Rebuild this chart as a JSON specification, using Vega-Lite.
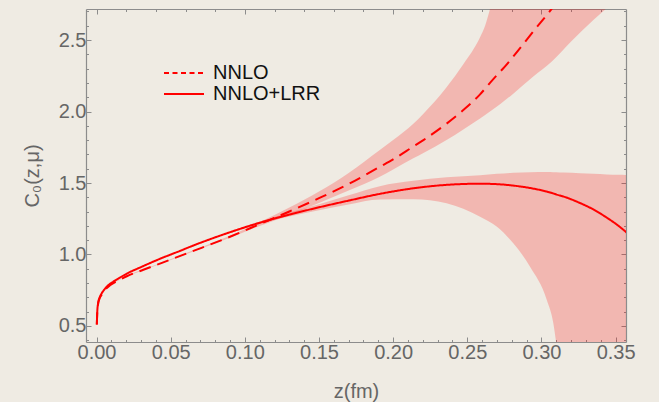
{
  "$schema": "https://vega.github.io/schema/vega-lite/v6.json",
  "autosize": "none",
  "width": 540,
  "height": 333,
  "padding": {"left": 86, "top": 9, "right": 33, "bottom": 60},
  "background": "#efebe3",
  "config": {
    "view": {"stroke": null},
    "font": "Liberation Sans",
    "axis": {
      "grid": false,
      "domainColor": "#8c8c8c",
      "domainWidth": 1.2,
      "tickColor": "#8c8c8c",
      "tickWidth": 1,
      "labelFont": "Liberation Sans",
      "labelFontSize": 20,
      "labelColor": "#666666",
      "labelOverlap": false,
      "labelFlush": false,
      "titleFont": "Liberation Sans",
      "titleFontSize": 20,
      "titleFontWeight": "normal",
      "titleColor": "#666666"
    }
  },
  "data": {
    "values": [
      {"series": "NNLO+LRR", "z": 0.0002, "c": 0.51, "lo": 0.51, "hi": 0.51},
      {"series": "NNLO+LRR", "z": 0.0005, "c": 0.6, "lo": 0.6, "hi": 0.6},
      {"series": "NNLO+LRR", "z": 0.001, "c": 0.655, "lo": 0.655, "hi": 0.655},
      {"series": "NNLO+LRR", "z": 0.0019, "c": 0.694, "lo": 0.694, "hi": 0.694},
      {"series": "NNLO+LRR", "z": 0.003, "c": 0.72, "lo": 0.72, "hi": 0.72},
      {"series": "NNLO+LRR", "z": 0.0042, "c": 0.74, "lo": 0.739, "hi": 0.741},
      {"series": "NNLO+LRR", "z": 0.0069, "c": 0.775, "lo": 0.774, "hi": 0.776},
      {"series": "NNLO+LRR", "z": 0.0113, "c": 0.81, "lo": 0.809, "hi": 0.811},
      {"series": "NNLO+LRR", "z": 0.016, "c": 0.84, "lo": 0.838, "hi": 0.842},
      {"series": "NNLO+LRR", "z": 0.0204, "c": 0.866, "lo": 0.864, "hi": 0.868},
      {"series": "NNLO+LRR", "z": 0.03, "c": 0.912, "lo": 0.91, "hi": 0.914},
      {"series": "NNLO+LRR", "z": 0.0428, "c": 0.97, "lo": 0.967, "hi": 0.973},
      {"series": "NNLO+LRR", "z": 0.055, "c": 1.02, "lo": 1.017, "hi": 1.023},
      {"series": "NNLO+LRR", "z": 0.0653, "c": 1.063, "lo": 1.059, "hi": 1.067},
      {"series": "NNLO+LRR", "z": 0.0878, "c": 1.148, "lo": 1.143, "hi": 1.153},
      {"series": "NNLO+LRR", "z": 0.11, "c": 1.222, "lo": 1.214, "hi": 1.23},
      {"series": "NNLO+LRR", "z": 0.13, "c": 1.279, "lo": 1.266, "hi": 1.293},
      {"series": "NNLO+LRR", "z": 0.15, "c": 1.33, "lo": 1.31, "hi": 1.352},
      {"series": "NNLO+LRR", "z": 0.17, "c": 1.377, "lo": 1.35, "hi": 1.415},
      {"series": "NNLO+LRR", "z": 0.191, "c": 1.424, "lo": 1.385, "hi": 1.478},
      {"series": "NNLO+LRR", "z": 0.2136, "c": 1.463, "lo": 1.386, "hi": 1.515},
      {"series": "NNLO+LRR", "z": 0.236, "c": 1.487, "lo": 1.358, "hi": 1.54},
      {"series": "NNLO+LRR", "z": 0.2586, "c": 1.495, "lo": 1.264, "hi": 1.555},
      {"series": "NNLO+LRR", "z": 0.27, "c": 1.492, "lo": 1.194, "hi": 1.565},
      {"series": "NNLO+LRR", "z": 0.281, "c": 1.482, "lo": 1.078, "hi": 1.572},
      {"series": "NNLO+LRR", "z": 0.2923, "c": 1.465, "lo": 0.915, "hi": 1.576},
      {"series": "NNLO+LRR", "z": 0.3036, "c": 1.44, "lo": 0.682, "hi": 1.577},
      {"series": "NNLO+LRR", "z": 0.308, "c": 1.427, "lo": 0.519, "hi": 1.576},
      {"series": "NNLO+LRR", "z": 0.31, "c": 1.42, "lo": 0.38, "hi": 1.575},
      {"series": "NNLO+LRR", "z": 0.315, "c": 1.405, "lo": 0.1, "hi": 1.573},
      {"series": "NNLO+LRR", "z": 0.326, "c": 1.36, "lo": -0.5, "hi": 1.568},
      {"series": "NNLO+LRR", "z": 0.335, "c": 1.315, "lo": -1.0, "hi": 1.564},
      {"series": "NNLO+LRR", "z": 0.344, "c": 1.258, "lo": -1.5, "hi": 1.56},
      {"series": "NNLO+LRR", "z": 0.352, "c": 1.2, "lo": -2.0, "hi": 1.557},
      {"series": "NNLO+LRR", "z": 0.36, "c": 1.13, "lo": -2.5, "hi": 1.555},

      {"series": "NNLO", "z": 0.0002, "c": 0.51, "lo": 0.51, "hi": 0.51},
      {"series": "NNLO", "z": 0.0005, "c": 0.6, "lo": 0.6, "hi": 0.6},
      {"series": "NNLO", "z": 0.001, "c": 0.65, "lo": 0.65, "hi": 0.65},
      {"series": "NNLO", "z": 0.0019, "c": 0.688, "lo": 0.688, "hi": 0.688},
      {"series": "NNLO", "z": 0.003, "c": 0.712, "lo": 0.712, "hi": 0.712},
      {"series": "NNLO", "z": 0.0042, "c": 0.73, "lo": 0.729, "hi": 0.731},
      {"series": "NNLO", "z": 0.0069, "c": 0.765, "lo": 0.764, "hi": 0.766},
      {"series": "NNLO", "z": 0.0091, "c": 0.785, "lo": 0.784, "hi": 0.786},
      {"series": "NNLO", "z": 0.016, "c": 0.825, "lo": 0.823, "hi": 0.827},
      {"series": "NNLO", "z": 0.0204, "c": 0.848, "lo": 0.846, "hi": 0.85},
      {"series": "NNLO", "z": 0.0316, "c": 0.893, "lo": 0.89, "hi": 0.896},
      {"series": "NNLO", "z": 0.045, "c": 0.945, "lo": 0.942, "hi": 0.948},
      {"series": "NNLO", "z": 0.0653, "c": 1.025, "lo": 1.021, "hi": 1.029},
      {"series": "NNLO", "z": 0.0878, "c": 1.115, "lo": 1.108, "hi": 1.122},
      {"series": "NNLO", "z": 0.11, "c": 1.212, "lo": 1.2, "hi": 1.226},
      {"series": "NNLO", "z": 0.12, "c": 1.256, "lo": 1.238, "hi": 1.276},
      {"series": "NNLO", "z": 0.13, "c": 1.301, "lo": 1.277, "hi": 1.328},
      {"series": "NNLO", "z": 0.15, "c": 1.394, "lo": 1.36, "hi": 1.44},
      {"series": "NNLO", "z": 0.17, "c": 1.493, "lo": 1.447, "hi": 1.57},
      {"series": "NNLO", "z": 0.191, "c": 1.613, "lo": 1.544, "hi": 1.73},
      {"series": "NNLO", "z": 0.2, "c": 1.665, "lo": 1.594, "hi": 1.8},
      {"series": "NNLO", "z": 0.2136, "c": 1.755, "lo": 1.673, "hi": 1.915},
      {"series": "NNLO", "z": 0.2204, "c": 1.8, "lo": 1.71, "hi": 1.985},
      {"series": "NNLO", "z": 0.236, "c": 1.915, "lo": 1.8, "hi": 2.17},
      {"series": "NNLO", "z": 0.2473, "c": 2.01, "lo": 1.875, "hi": 2.33},
      {"series": "NNLO", "z": 0.2586, "c": 2.12, "lo": 1.952, "hi": 2.52},
      {"series": "NNLO", "z": 0.262, "c": 2.16, "lo": 1.975, "hi": 2.6},
      {"series": "NNLO", "z": 0.2653, "c": 2.2, "lo": 2.0, "hi": 2.717},
      {"series": "NNLO", "z": 0.27, "c": 2.255, "lo": 2.035, "hi": 2.9},
      {"series": "NNLO", "z": 0.275, "c": 2.31, "lo": 2.075, "hi": 3.1},
      {"series": "NNLO", "z": 0.281, "c": 2.385, "lo": 2.125, "hi": 3.35},
      {"series": "NNLO", "z": 0.2945, "c": 2.56, "lo": 2.245, "hi": 3.9},
      {"series": "NNLO", "z": 0.307, "c": 2.72, "lo": 2.35, "hi": 4.5},
      {"series": "NNLO", "z": 0.32, "c": 2.9, "lo": 2.49, "hi": 5.2},
      {"series": "NNLO", "z": 0.335, "c": 3.12, "lo": 2.64, "hi": 6.0},
      {"series": "NNLO", "z": 0.36, "c": 3.5, "lo": 2.86, "hi": 7.5}
    ]
  },
  "layer": [
    {
      "mark": {"type": "area", "color": "#ff0000", "opacity": 0.22, "interpolate": "monotone", "clip": true},
      "encoding": {
        "x": {
          "field": "z", "type": "quantitative",
          "scale": {"domain": [-0.0071, 0.357], "nice": false, "zero": false},
          "axis": {
            "orient": "bottom",
            "title": "z(fm)",
            "titlePadding": 17,
            "values": [0, 0.01, 0.02, 0.03, 0.04, 0.05, 0.06, 0.07, 0.08, 0.09, 0.1, 0.11, 0.12, 0.13, 0.14, 0.15, 0.16, 0.17, 0.18, 0.19, 0.2, 0.21, 0.22, 0.23, 0.24, 0.25, 0.26, 0.27, 0.28, 0.29, 0.3, 0.31, 0.32, 0.33, 0.34, 0.35],
            "tickSize": {"condition": {"test": "abs(datum.value*20 - round(datum.value*20)) < 0.001", "value": -5}, "value": -2.5},
            "labelExpr": "abs(datum.value*20 - round(datum.value*20)) < 0.001 ? format(datum.value, '.2f') : ''",
            "labelPadding": 5
          }
        },
        "y": {
          "field": "lo", "type": "quantitative",
          "scale": {"domain": [0.388, 2.717], "nice": false, "zero": false},
          "axis": {
            "orient": "left",
            "title": "C₀(z,μ)",
            "titlePadding": 16,
            "values": [0.4, 0.5, 0.6, 0.7, 0.8, 0.9, 1.0, 1.1, 1.2, 1.3, 1.4, 1.5, 1.6, 1.7, 1.8, 1.9, 2.0, 2.1, 2.2, 2.3, 2.4, 2.5, 2.6, 2.7],
            "tickSize": {"condition": {"test": "abs(datum.value*2 - round(datum.value*2)) < 0.001", "value": -5}, "value": -2.5},
            "labelExpr": "abs(datum.value*2 - round(datum.value*2)) < 0.001 ? format(datum.value, '.1f') : ''",
            "labelPadding": 5
          }
        },
        "y2": {"field": "hi"},
        "detail": {"field": "series"}
      }
    },
    {
      "mark": {"type": "line", "color": "#ff0000", "strokeWidth": 2, "interpolate": "monotone", "clip": true},
      "encoding": {
        "x": {
          "field": "z", "type": "quantitative",
          "axis": {
            "orient": "top", "title": null, "labels": false,
            "values": [0, 0.02, 0.04, 0.06, 0.08, 0.1, 0.12, 0.14, 0.16, 0.18, 0.2, 0.22, 0.24, 0.26, 0.28, 0.3, 0.32, 0.34],
            "tickSize": {"condition": {"test": "abs(datum.value*10 - round(datum.value*10)) < 0.001", "value": -5}, "value": -2.5}
          }
        },
        "y": {
          "field": "c", "type": "quantitative",
          "axis": {
            "orient": "right", "title": null, "labels": false,
            "values": [0.4, 0.5, 0.6, 0.7, 0.8, 0.9, 1.0, 1.1, 1.2, 1.3, 1.4, 1.5, 1.6, 1.7, 1.8, 1.9, 2.0, 2.1, 2.2, 2.3, 2.4, 2.5, 2.6, 2.7],
            "tickSize": {"condition": {"test": "abs(datum.value*2 - round(datum.value*2)) < 0.001", "value": -5}, "value": -2.5}
          }
        },
        "strokeDash": {
          "field": "series", "type": "nominal",
          "scale": {"domain": ["NNLO", "NNLO+LRR"], "range": [[12, 7], [1, 0]]},
          "legend": null
        }
      }
    },
    {
      "mark": {"type": "line", "color": "#ff0000", "strokeWidth": 1.8, "opacity": 0, "clip": true},
      "encoding": {
        "x": {"field": "z", "type": "quantitative", "axis": null},
        "y": {"field": "c", "type": "quantitative", "axis": null},
        "strokeDash": {
          "field": "series", "type": "nominal",
          "scale": {"domain": ["NNLO", "NNLO+LRR"], "range": [[5, 3.5], [1, 0]]},
          "legend": {
            "orient": "none",
            "legendX": 87,
            "legendY": 53,
            "title": null,
            "padding": 0,
            "symbolType": "M-2,0L2,0",
            "symbolSize": 400,
            "symbolStrokeWidth": 1.8,
            "symbolStrokeColor": "#ff0000",
            "symbolFillColor": "transparent",
            "symbolOpacity": 1,
            "rowPadding": -1,
            "labelOffset": 18,
            "labelFont": "Liberation Sans",
            "labelFontSize": 20,
            "labelColor": "#111111"
          }
        }
      }
    }
  ],
  "resolve": {
    "axis": {"x": "independent", "y": "independent"},
    "scale": {"strokeDash": "independent"}
  }
}
